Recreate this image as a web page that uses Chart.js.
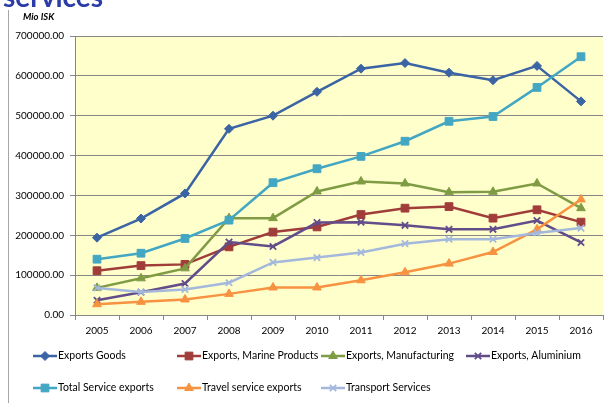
<!DOCTYPE html>
<html>
<head>
<meta charset="utf-8">
<script src="https://cdn.jsdelivr.net/npm/chart.js@4"></script>
<style>
  html, body { margin: 0; padding: 0; background: #fff; }
  #wrap { position: relative; width: 613px; height: 403px; }
</style>
</head>
<body>
<div id="wrap"><canvas id="exportsChart" width="613" height="403"></canvas></div>
<script>
// =========================
// DATA (Mio ISK)
// =========================
const years = ["2005", "2006", "2007", "2008", "2009", "2010", "2011", "2012", "2013", "2014", "2015", "2016"];

const exportsGoods     = [194000, 242000, 305000, 467000, 500000, 560000, 618000, 632000, 608000, 589000, 625000, 536000];
const marineProducts   = [111000, 124000, 127000, 171000, 208000, 221000, 252000, 268000, 272000, 243000, 264000, 233000];
const manufacturing    = [68000, 92000, 117000, 243000, 243000, 310000, 335000, 330000, 308000, 309000, 330000, 268000];
const aluminium        = [37000, 57000, 79000, 183000, 172000, 232000, 233000, 225000, 215000, 215000, 237000, 182000];
const totalService     = [140000, 155000, 192000, 238000, 332000, 367000, 398000, 436000, 486000, 498000, 571000, 648000];
const travelService    = [27000, 33000, 39000, 53000, 69000, 69000, 87000, 107000, 129000, 158000, 215000, 290000];
const transportService = [68000, 58000, 64000, 81000, 132000, 144000, 157000, 179000, 190000, 190000, 206000, 218000];

const yTicks = [0, 100000, 200000, 300000, 400000, 500000, 600000, 700000];

const FONT = "Lato";

// =========================
// SERIES
// =========================
const SERIES = [
    { label: "Exports Goods",            data: exportsGoods,     color: "#3A64A3", style: "rectRot",  radius: 4.5 },
    { label: "Exports, Marine Products", data: marineProducts,   color: "#A03D3A", style: "rect",     radius: 5.5 },
    { label: "Exports, Manufacturing",   data: manufacturing,    color: "#7F9C45", style: "triangle", radius: 5 },
    { label: "Exports, Aluminium",       data: aluminium,        color: "#634C8A", style: "crossRot", radius: 4.5 },
    { label: "Total Service exports",    data: totalService,     color: "#43A7C3", style: "rect",     radius: 5.5 },
    { label: "Travel service exports",   data: travelService,    color: "#F79240", style: "triangle", radius: 5 },
    { label: "Transport Services",       data: transportService, color: "#A4B8DC", style: "crossRot", radius: 4.5 }
];

// legend grid: [line start x, row y]
const LEGEND_POS = [
    [33, 356], [177, 356], [321, 356], [466, 356],
    [33, 388], [177, 388], [321, 388]
];

// =========================
// PLUGINS
// =========================
const plotBackground = {
    id: "plotBackground",
    beforeDraw(chart) {
        const { ctx, chartArea: a } = chart;
        ctx.save();
        ctx.fillStyle = "#FFFFCC";
        ctx.fillRect(a.left, a.top, a.right - a.left, a.bottom - a.top);
        ctx.restore();
    }
};

function drawMarker(ctx, ds, x, y) {
    const opts = {
        pointStyle: ds.pointStyle,
        radius: ds.pointRadius,
        rotation: 0,
        borderWidth: ds.pointBorderWidth
    };
    ctx.fillStyle = ds.borderColor;
    ctx.strokeStyle = ds.borderColor;
    ctx.lineWidth = ds.pointBorderWidth;
    if (Chart.helpers && Chart.helpers.drawPoint) {
        Chart.helpers.drawPoint(ctx, opts, x, y);
    } else {
        ctx.fillRect(x - 3, y - 3, 6, 6);
    }
}

const sheetDecor = {
    id: "sheetDecor",
    afterDraw(chart) {
        const ctx = chart.ctx;
        ctx.save();

        // sheet title, cut at the top edge
        ctx.fillStyle = "#2B3CA8";
        ctx.font = `bold 28px ${FONT}`;
        ctx.textBaseline = "alphabetic";
        ctx.textAlign = "left";
        ctx.fillText("services", 3, 7);

        // frame line on the left
        ctx.strokeStyle = "#A6A6A6";
        ctx.lineWidth = 1;
        ctx.beginPath();
        ctx.moveTo(8.5, 10);
        ctx.lineTo(8.5, 403);
        ctx.stroke();

        // unit label
        ctx.fillStyle = "#000";
        ctx.font = `italic bold 9.5px ${FONT}`;
        ctx.textBaseline = "middle";
        ctx.fillText("Mio ISK", 23, 17);

        // legend
        ctx.font = `10.5px ${FONT}`;
        chart.data.datasets.forEach((ds, i) => {
            const [x, y] = LEGEND_POS[i];
            ctx.strokeStyle = ds.borderColor;
            ctx.lineWidth = 2.5;
            ctx.beginPath();
            ctx.moveTo(x, y);
            ctx.lineTo(x + 24, y);
            ctx.stroke();
            drawMarker(ctx, ds, x + 12, y);
            ctx.fillStyle = "#000";
            ctx.textBaseline = "middle";
            ctx.fillText(ds.label, x + 25, y);
        });

        ctx.restore();
    }
};

// =========================
// CHART
// =========================
new Chart(document.getElementById("exportsChart"), {
    type: "line",
    data: {
        labels: years,
        datasets: SERIES.map((s, i) => ({
            label: s.label,
            data: s.data,
            borderColor: s.color,
            backgroundColor: s.color,
            pointBackgroundColor: s.color,
            pointBorderColor: s.color,
            pointStyle: s.style,
            pointRadius: s.radius,
            pointBorderWidth: s.style === "crossRot" ? 1.8 : 1,
            borderWidth: 2.5,
            tension: 0,
            fill: false,
            order: SERIES.length - i
        }))
    },
    options: {
        responsive: false,
        animation: false,
        devicePixelRatio: 1,
        layout: { padding: { top: 36, right: 10, bottom: 0, left: 0 } },
        plugins: {
            legend: { display: false },
            tooltip: { enabled: false }
        },
        scales: {
            x: {
                offset: true,
                grid: {
                    offset: true,
                    drawOnChartArea: false,
                    drawTicks: true,
                    tickLength: 5,
                    color: "#868686"
                },
                border: { color: "#868686", width: 1 },
                ticks: {
                    color: "#000",
                    font: { family: FONT, size: 10 },
                    padding: 5,
                    maxRotation: 0,
                    autoSkip: false
                },
                afterFit(scale) { scale.height = 88; }
            },
            y: {
                min: yTicks[0],
                max: yTicks[yTicks.length - 1],
                afterBuildTicks(scale) {
                    scale.ticks = yTicks.map(v => ({ value: v }));
                },
                grid: {
                    color: "#868686",
                    drawTicks: true,
                    tickLength: 5
                },
                border: { color: "#868686", width: 1 },
                ticks: {
                    color: "#000",
                    font: { family: FONT, size: 10 },
                    padding: 6,
                    callback: v => Number(v).toFixed(2)
                },
                afterFit(scale) { scale.width = 75; }
            }
        }
    },
    plugins: [plotBackground, sheetDecor]
});
</script>
</body>
</html>
